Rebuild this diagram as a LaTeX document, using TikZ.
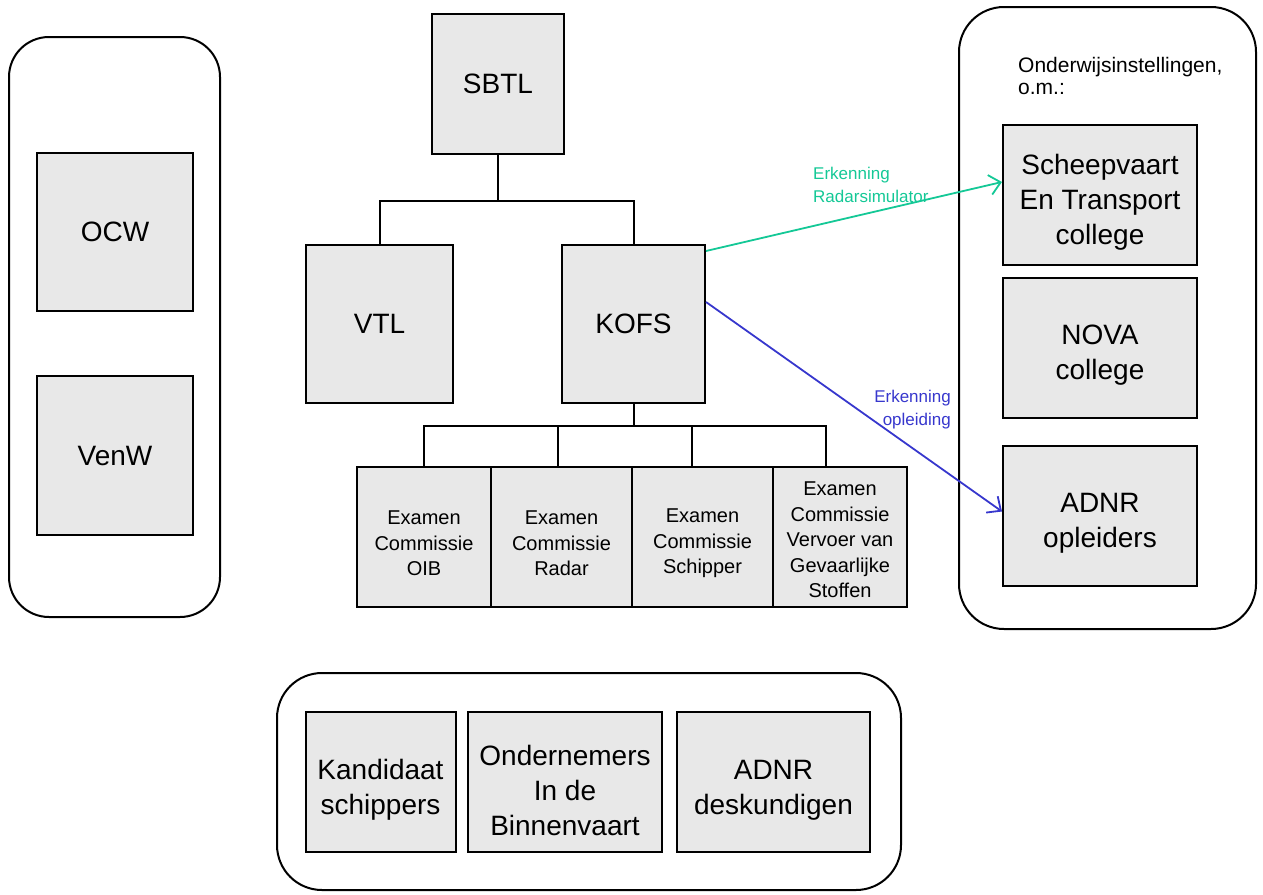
\documentclass[tikz,border=0pt]{standalone}
\usepackage{fontspec}
\setmainfont{Liberation Sans}
\usetikzlibrary{arrows.meta}
\definecolor{boxgray}{RGB}{232,232,232}
\definecolor{arrgreen}{RGB}{20,200,150}
\definecolor{arrblue}{RGB}{55,55,205}
\begin{document}
\begin{tikzpicture}[x=1pt,y=-1pt,
  container/.style={draw, line width=2pt, rounded corners=40pt, inner sep=0pt},
  bigbox/.style={draw, fill=boxgray, line width=2pt, inner sep=0pt, align=center,
    font=\fontsize{28}{35}\selectfont},
  bigtext/.style={inner sep=0pt, align=center, font=\fontsize{28}{35}\selectfont},
  exambox/.style={draw, fill=boxgray, line width=2pt, inner sep=0pt, minimum height=140pt},
  examtext/.style={inner sep=0pt, align=center, font=\fontsize{20}{25.5}\selectfont},
  tree/.style={draw, line width=2pt},
  lbl/.style={inner sep=0pt, font=\fontsize{17}{23}\selectfont},
  greenarr/.style={draw=arrgreen, line width=1.8pt, -{Straight Barb[length=11pt,width=20pt,line width=1.8pt]}},
  bluearr/.style={draw=arrblue, line width=1.8pt, -{Straight Barb[length=11pt,width=20pt,line width=1.8pt]}}
]
\useasboundingbox (0,0) rectangle (1263,894);

% containers
\node[container, minimum width=211pt, minimum height=580pt] (leftc) at (114.5,327) {};
\node[container, minimum width=297pt, minimum height=622pt, rounded corners=45pt] (rightc) at (1107.5,318) {};
\node[container, minimum width=624pt, minimum height=217pt, rounded corners=45pt] (botc) at (589,781.5) {};

% left
\node[bigbox, minimum width=156pt, minimum height=158pt] (OCW) at (115,232) {OCW};
\node[bigbox, minimum width=156pt, minimum height=159pt] (VenW) at (115,455.5) {VenW};

% centre tree
\node[bigbox, minimum width=132pt, minimum height=140pt] (SBTL) at (498,84) {SBTL};
\node[bigbox, minimum width=147pt, minimum height=158pt] (VTL) at (379.5,324) {VTL};
\node[bigbox, minimum width=143pt, minimum height=158pt] (KOFS) at (633.5,324) {KOFS};

\node[exambox, minimum width=134pt] (E1) at (424,536.5) {};
\node[exambox, minimum width=141pt] (E2) at (561.5,536.5) {};
\node[exambox, minimum width=141pt] (E3) at (702.5,536.5) {};
\node[exambox, minimum width=134pt] (E4) at (840,536.5) {};
\node[examtext] (E1t) at ([yshift=-7pt]E1.center) {Examen\\Commissie\\OIB};
\node[examtext] (E2t) at ([yshift=-7pt]E2.center) {Examen\\Commissie\\Radar};
\node[examtext] (E3t) at ([yshift=-7pt]E3.center) {Examen\\Commissie\\Schipper};
\node[examtext] (E4t) at ([yshift=-3.5pt]E4.center) {Examen\\Commissie\\Vervoer van\\Gevaarlijke\\Stoffen};

\draw[tree] (SBTL.south) -- ++(0,46) coordinate (j1);
\draw[tree] (VTL.north) |- (j1) -| (KOFS.north);
\draw[tree] (KOFS.south) -- ++(0,22) coordinate (j2);
\draw[tree] (E1.north) |- (j2) -| ([xshift=-14pt]E4.north);
\draw[tree] ([xshift=-3.5pt]E2.north) -- ([xshift=-3.5pt]E2.north |- j2);
\draw[tree] ([xshift=-10.5pt]E3.north) -- ([xshift=-10.5pt]E3.north |- j2);

% right
\node[lbl, anchor=west, align=left, font=\fontsize{21}{22}\selectfont] (onderw) at (1018,76) {Onderwijsinstellingen,\\o.m.:};
\node[bigbox, minimum width=194pt, minimum height=140pt] (SET) at (1100,195) {};
\node[bigbox, minimum width=194pt, minimum height=140pt] (NOVA) at (1100,347.5) {};
\node[bigbox, minimum width=194pt, minimum height=140pt] (ADNRo) at (1100,515.5) {};
\node[bigtext] (SETt) at ([yshift=-7pt]SET.center) {Scheepvaart\\En Transport\\college};
\node[bigtext] (NOVAt) at ([yshift=-8pt]NOVA.center) {NOVA\\college};
\node[bigtext] (ADNRot) at ([yshift=-8pt]ADNRo.center) {ADNR\\opleiders};

% bottom
\node[bigbox, minimum width=150pt, minimum height=140pt] (Kand) at (380.5,782) {};
\node[bigbox, minimum width=194pt, minimum height=140pt] (Ond) at (565,782) {};
\node[bigbox, minimum width=193pt, minimum height=140pt] (ADNRd) at (773.5,782) {};
\node[bigtext] (Kandt) at ([yshift=-8pt]Kand.center) {Kandidaat\\schippers};
\node[bigtext] (Ondt) at ([yshift=-8pt]Ond.center) {Ondernemers\\In de\\Binnenvaart};
\node[bigtext] (ADNRdt) at ([yshift=-8pt]ADNRd.center) {ADNR\\deskundigen};

% arrows
\draw[greenarr] ([yshift=-7pt]KOFS.north east) -- ([yshift=-58pt]SET.north west);
\draw[bluearr] ([yshift=-58pt]KOFS.north east) -- ([yshift=-67pt]ADNRo.north west);
\node[lbl, anchor=west, align=left, text=arrgreen] (lg) at (813,185) {Erkenning\\Radarsimulator};
\node[lbl, anchor=east, align=right, text=arrblue] (lb) at (951,410) {Erkenning\\opleiding};
\end{tikzpicture}
\end{document}
